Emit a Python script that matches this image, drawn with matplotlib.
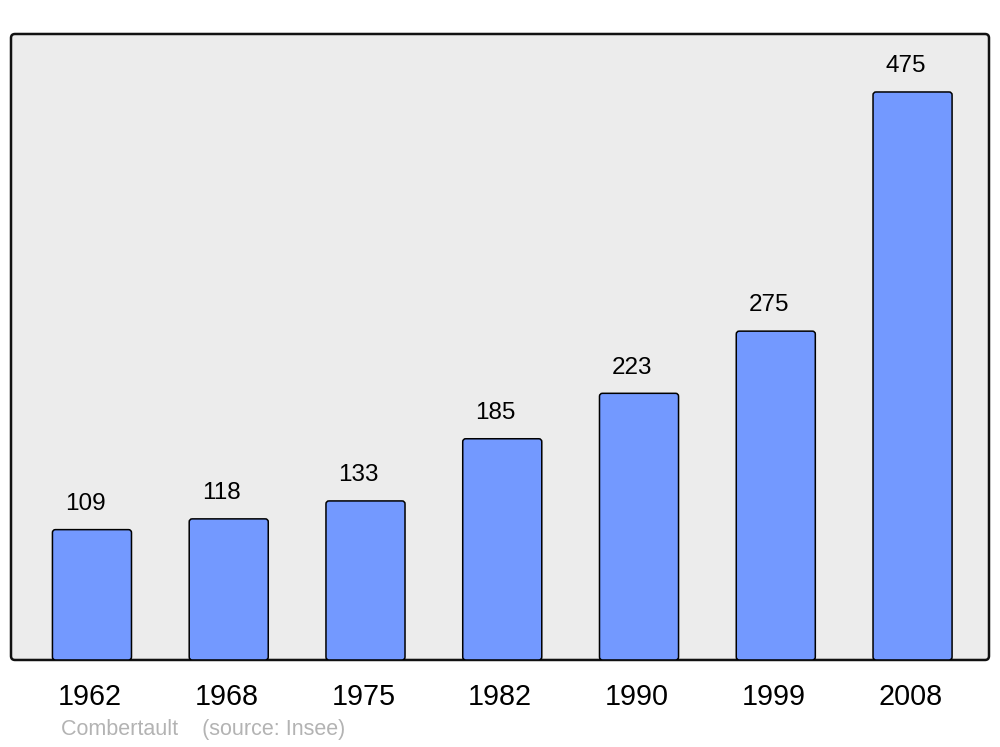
import matplotlib
matplotlib.use("Agg")
import matplotlib.pyplot as plt
from matplotlib.patches import FancyBboxPatch

years = ["1962", "1968", "1975", "1982", "1990", "1999", "2008"]
population = [109, 118, 133, 185, 223, 275, 475]
footer = "Combertault    (source: Insee)"

plt.rcParams['font.family'] = ['Liberation Sans', 'DejaVu Sans']

fig = plt.figure(figsize=(10, 7.47), dpi=100)
ax = fig.add_axes([0.011, 0.1165, 0.978, 0.838])
ax.set_facecolor("none")
for s in ax.spines.values():
    s.set_visible(False)

# rounded grey background box behind the axes
bg = FancyBboxPatch((0.011, 0.1165), 0.978, 0.838,
                    boxstyle="round,pad=0,rounding_size=0.004",
                    mutation_aspect=1000 / 747,
                    transform=fig.transFigure, facecolor="#ececec",
                    edgecolor="#111111", linewidth=1.8, zorder=-5)
fig.patches.append(bg)

x = list(range(len(years)))
width = 0.578
bars = ax.bar(x, population, width=width)

ax.set_xlim(-0.592, 6.559)
ax.set_ylim(0, 523.5)

# swap the square bars for slightly rounded ones
px_x = (6.559 + 0.592) / 978
px_y = 523.5 / 626
for b in bars:
    b.set_visible(False)
    p = FancyBboxPatch((b.get_x(), 0), b.get_width(), b.get_height(),
                       boxstyle="round,pad=0,rounding_size=%f" % (3 * px_x),
                       mutation_aspect=px_y / px_x,
                       facecolor="#7399ff", edgecolor="black",
                       linewidth=1.1, zorder=2)
    ax.add_patch(p)

for xi, v in zip(x, population):
    ax.annotate(str(v), (xi, v), xytext=(-5, 18.5), textcoords="offset points",
                ha="center", va="center", fontsize=17.5)

# year labels, nudged a touch left like the original
for xi, yr in zip(x, years):
    ax.annotate(yr, (xi, 0), xytext=(-1.5, -26.3), textcoords="offset points",
                ha="center", va="center", fontsize=20.7, annotation_clip=False)

ax.set_xticks([])
ax.set_yticks([])

fig.text(0.061, 1 - 730 / 747, footer, color="#b3b3b3", fontsize=15.5,
         ha="left", va="center")

plt.savefig("out.png", dpi=100)
